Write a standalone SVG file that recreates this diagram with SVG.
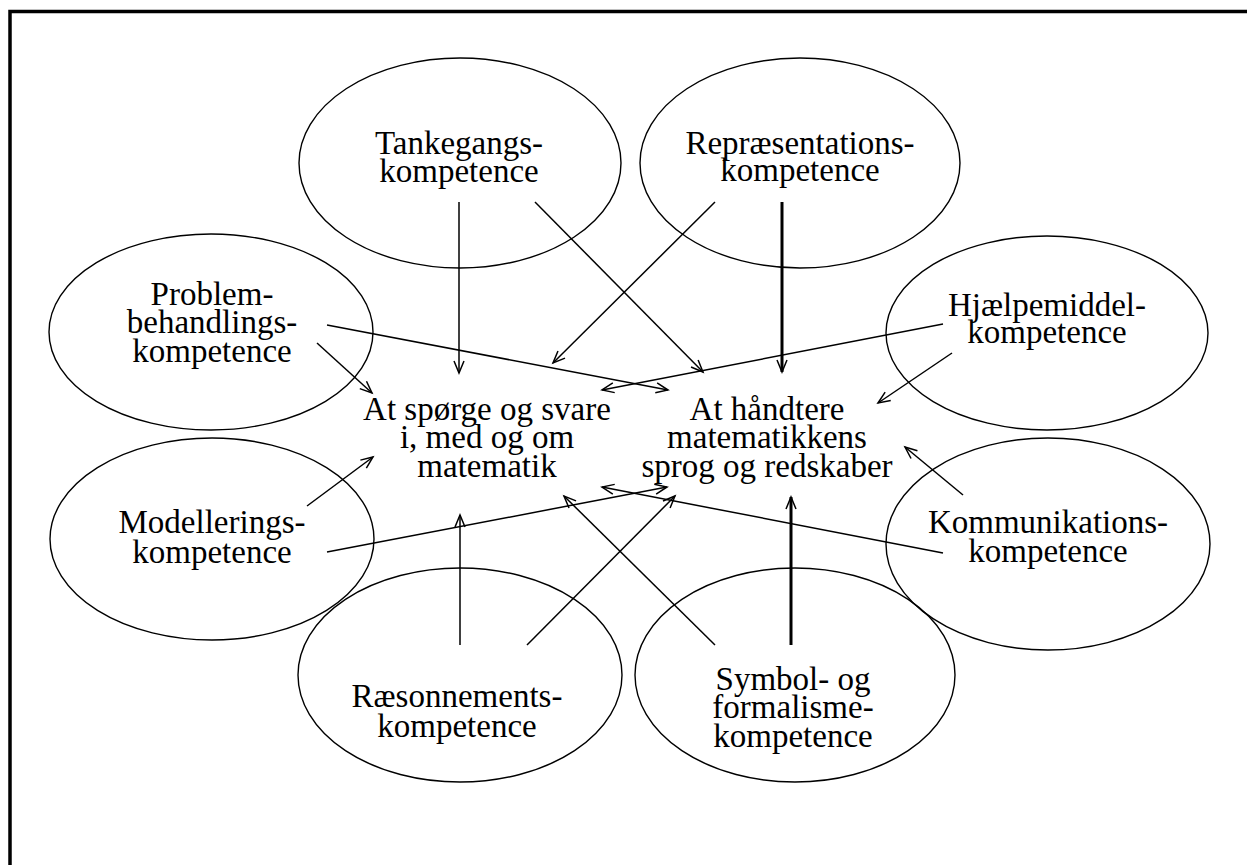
<svg xmlns="http://www.w3.org/2000/svg" width="1247" height="865" viewBox="0 0 1247 865">
<style>
.el{fill:none;stroke:#000;stroke-width:1.4}
.t{font-family:"Liberation Serif","Times New Roman",serif;font-size:33px;fill:#000;text-anchor:middle}
.c{stroke:#000;stroke-width:1.5;fill:none;marker-end:url(#ah)}
.ck{stroke:#000;stroke-width:3;fill:none;marker-end:url(#ah)}
</style>
<defs>
<marker id="ah" markerUnits="userSpaceOnUse" markerWidth="16" markerHeight="16" refX="13" refY="6" orient="auto">
<path d="M1,1 L13,6 L1,11" fill="none" stroke="#000" stroke-width="1.5"/>
</marker>
</defs>
<rect width="1247" height="865" fill="#fff"/>
<path d="M10,865 L10,11.5 L1247,11.5" fill="none" stroke="#000" stroke-width="3.5"/>
<g id="tankegang">
<ellipse class="el" cx="460" cy="163" rx="161" ry="105"/>
<text class="t" x="459" y="154">Tankegangs-<tspan x="459" dy="28">kompetence</tspan></text>
</g>
<g id="repraesentation">
<ellipse class="el" cx="800" cy="163" rx="160" ry="105"/>
<text class="t" x="800" y="154">Repræsentations-<tspan x="800" dy="27">kompetence</tspan></text>
</g>
<g id="problem">
<ellipse class="el" cx="211" cy="332" rx="162" ry="98"/>
<text class="t" x="212" y="305">Problem-<tspan x="212" dy="28">behandlings-</tspan><tspan x="212" dy="29">kompetence</tspan></text>
</g>
<g id="hjaelpemiddel">
<ellipse class="el" cx="1047" cy="333" rx="161" ry="97"/>
<text class="t" x="1047" y="316">Hjælpemiddel-<tspan x="1047" dy="27">kompetence</tspan></text>
</g>
<g id="modellering">
<ellipse class="el" cx="212" cy="539" rx="162" ry="101"/>
<text class="t" x="212" y="533">Modellerings-<tspan x="212" dy="30">kompetence</tspan></text>
</g>
<g id="kommunikation">
<ellipse class="el" cx="1048" cy="544" rx="162" ry="106"/>
<text class="t" x="1048" y="533">Kommunikations-<tspan x="1048" dy="29">kompetence</tspan></text>
</g>
<g id="raesonnement">
<ellipse class="el" cx="460" cy="675" rx="162" ry="107"/>
<text class="t" x="457" y="707">Ræsonnements-<tspan x="457" dy="30">kompetence</tspan></text>
</g>
<g id="symbol">
<ellipse class="el" cx="795" cy="675" rx="160" ry="107"/>
<text class="t" x="793" y="690">Symbol- og<tspan x="793" dy="28">formalisme-</tspan><tspan x="793" dy="29">kompetence</tspan></text>
</g>
<g id="spoerge">
<text class="t" x="487" y="420">At spørge og svare<tspan x="487" dy="28">i, med og om</tspan><tspan x="487" dy="29">matematik</tspan></text>
</g>
<g id="haandtere">
<text class="t" x="767" y="420">At håndtere<tspan x="767" dy="28">matematikkens</tspan><tspan x="767" dy="29">sprog og redskaber</tspan></text>
</g>
<g id="connectors">
<line class="c" x1="459" y1="202" x2="459" y2="373"/>
<line class="c" x1="535" y1="202" x2="703" y2="372"/>
<line class="c" x1="715" y1="202" x2="553" y2="363"/>
<line class="ck" x1="782" y1="202" x2="782" y2="372"/>
<line class="c" x1="327" y1="325" x2="668" y2="390"/>
<line class="c" x1="943" y1="324" x2="602" y2="390"/>
<line class="c" x1="317" y1="343" x2="372" y2="393"/>
<line class="c" x1="952" y1="353" x2="878" y2="403"/>
<line class="c" x1="307" y1="506" x2="373" y2="457"/>
<line class="c" x1="963" y1="495" x2="905" y2="447"/>
<line class="c" x1="327" y1="552" x2="667" y2="487"/>
<line class="c" x1="943" y1="553" x2="602" y2="487"/>
<line class="c" x1="460" y1="645" x2="460" y2="515"/>
<line class="c" x1="527" y1="645" x2="675" y2="496"/>
<line class="c" x1="715" y1="645" x2="564" y2="496"/>
<line class="ck" x1="791" y1="645" x2="791" y2="497"/>
</g>
</svg>
